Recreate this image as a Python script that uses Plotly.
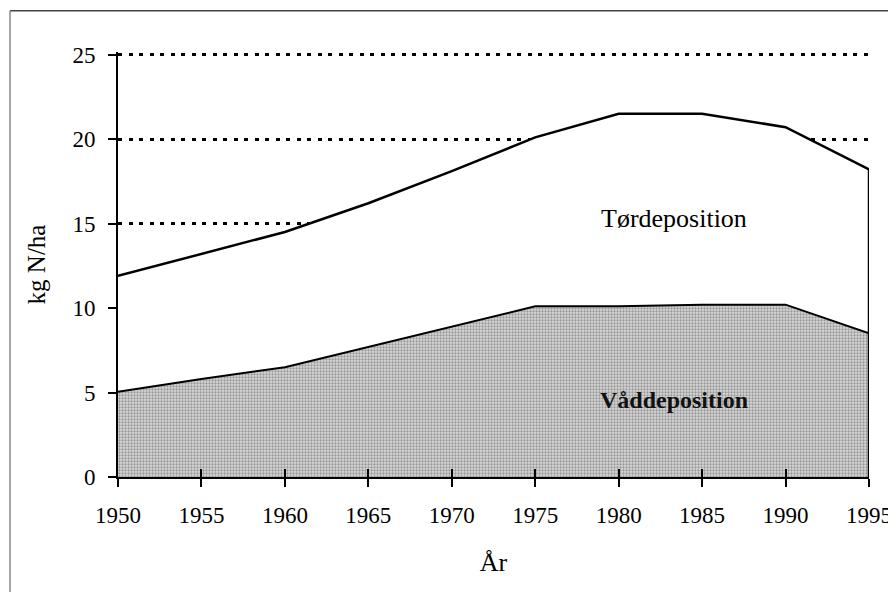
import plotly.graph_objects as go

FONT = "Liberation Serif, Times New Roman, serif"

years = [1950, 1955, 1960, 1965, 1970, 1975, 1980, 1985, 1990, 1995]
total_dep = [11.9, 13.2, 14.5, 16.2, 18.1, 20.1, 21.5, 21.5, 20.7, 18.2]
wet_dep = [5.05, 5.8, 6.5, 7.7, 8.9, 10.1, 10.1, 10.2, 10.2, 8.5]
y_ticks = [0, 5, 10, 15, 20, 25]
x_ticks = years

fig = go.Figure()

# total (dry on top of wet) - white fill hides the gridlines below the curve
fig.add_trace(
    go.Scatter(
        x=years,
        y=total_dep,
        mode="lines",
        fill="tozeroy",
        fillcolor="white",
        line=dict(color="black", width=2.5),
        hoverinfo="skip",
    )
)

# wet deposition, stippled grey
fig.add_trace(
    go.Scatter(
        x=years,
        y=wet_dep,
        mode="lines",
        fill="tozeroy",
        fillcolor="#d6d6d6",
        fillpattern=dict(
            shape=".",
            bgcolor="#d8d8d8",
            fgcolor="#555555",
            size=3,
            solidity=0.45,
        ),
        line=dict(color="black", width=2),
        hoverinfo="skip",
    )
)

# right edge of the area at the last year
fig.add_trace(
    go.Scatter(
        x=[years[-1], years[-1]],
        y=[0, total_dep[-1]],
        mode="lines",
        line=dict(color="black", width=2.5),
        xaxis="x2",
        hoverinfo="skip",
    )
)

fig.add_annotation(
    x=1983.3, y=15.3, text="Tørdeposition", showarrow=False,
    font=dict(family=FONT, size=26, color="black"),
)
fig.add_annotation(
    x=1983.3, y=4.55, text="<b>Våddeposition</b>", showarrow=False,
    font=dict(family=FONT, size=24, color="#111"),
)

# page frame
fig.add_shape(
    type="line", xref="paper", yref="paper",
    x0=-0.1438, x1=1.2, y0=1.097, y1=1.097,
    line=dict(color="#444", width=1.5),
)
fig.add_shape(
    type="line", xref="paper", yref="paper",
    x0=-0.1438, x1=-0.1438, y0=1.097, y1=-0.5,
    line=dict(color="#888", width=1.5),
)

# page body has an 8px margin, so the figure is a bit smaller than the window
fig.update_layout(
    width=888,
    height=584,
    margin=dict(l=110, r=27, t=44, b=115),
    paper_bgcolor="white",
    plot_bgcolor="white",
    showlegend=False,
    font=dict(family=FONT, size=23, color="black"),
    xaxis=dict(
        range=[years[0], years[-1]],
        tickvals=x_ticks,
        ticks="outside",
        ticklen=8,
        tickwidth=2,
        tickcolor="black",
        showline=True,
        linecolor="black",
        linewidth=2,
        showgrid=False,
        zeroline=False,
        automargin=False,
        ticklabelstandoff=8,
        tickfont=dict(size=23),
        title=dict(text="År", font=dict(size=26), standoff=26),
    ),
    xaxis2=dict(
        overlaying="x",
        matches="x",
        anchor="y",
        side="bottom",
        tickvals=x_ticks,
        ticks="inside",
        ticklen=8,
        tickwidth=2,
        tickcolor="black",
        showticklabels=False,
        showline=False,
        showgrid=False,
        zeroline=False,
    ),
    yaxis=dict(
        range=[0, 25.15],
        tickvals=y_ticks,
        ticks="outside",
        ticklen=8,
        tickwidth=2,
        tickcolor="black",
        showline=True,
        linecolor="black",
        linewidth=2,
        showgrid=True,
        gridcolor="black",
        gridwidth=2.5,
        griddash="4px,6.5px",
        zeroline=False,
        automargin=False,
        ticklabelstandoff=8,
        tickfont=dict(size=23),
        title=dict(text="kg N/ha", font=dict(size=25), standoff=20),
    ),
)

fig.write_html("out.html")
